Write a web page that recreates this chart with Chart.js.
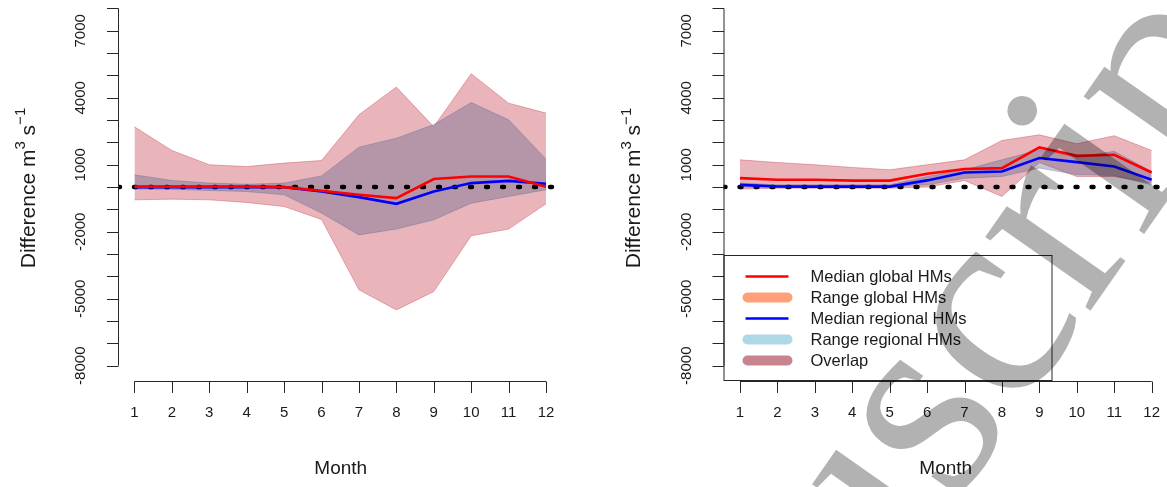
<!DOCTYPE html>
<html>
<head>
<meta charset="utf-8">
<script src="https://cdn.jsdelivr.net/npm/chart.js@4.4.1/dist/chart.umd.min.js"></script>
<style>
    html, body { margin: 0; padding: 0; background: #fff; }
    #wrap { position: relative; width: 1167px; height: 487px; }
    canvas { position: absolute; left: 0; top: 0; }
</style>
</head>
<body>
<div id="wrap">
    <canvas id="left-chart" width="1167" height="487"></canvas>
    <canvas id="right-chart" width="1167" height="487"></canvas>
</div>
<script>
// months on the x axis
const months = [1, 2, 3, 4, 5, 6, 7, 8, 9, 10, 11, 12];

// left panel (m3 s-1)
const leftGlobalMedian = [20, 20, 20, 20, 0, -165, -345, -495, 360, 475, 475, 20];
const leftGlobalMin = [-570, -540, -570, -690, -870, -1450, -4600, -5500, -4680, -2180, -1880, -750];
const leftGlobalMax = [2700, 1640, 1000, 920, 1075, 1190, 3240, 4480, 2700, 5075, 3760, 3315];
const leftRegionalMedian = [0, 0, 0, 0, 0, -200, -450, -750, -200, 180, 280, 150];
const leftRegionalMin = [-90, -100, -150, -200, -345, -1165, -2140, -1880, -1465, -720, -420, -120];
const leftRegionalMax = [550, 300, 180, 130, 180, 500, 1790, 2190, 2800, 3790, 3015, 1250];

// right panel
const rightGlobalMedian = [400, 330, 330, 290, 290, 600, 810, 850, 1775, 1400, 1450, 655];
const rightGlobalMin = [-90, -50, -50, -50, -50, 0, 295, -420, 1100, 475, 475, 180];
const rightGlobalMax = [1220, 1100, 1000, 880, 775, 1000, 1220, 2090, 2340, 1940, 2300, 1640];
const rightRegionalMedian = [100, 30, 20, 20, 20, 300, 655, 700, 1300, 1120, 925, 330];
const rightRegionalMin = [0, 0, 0, 0, 0, 100, 400, 475, 850, 560, 520, 100];
const rightRegionalMax = [180, 100, 100, 100, 100, 475, 775, 1220, 1670, 1340, 1600, 700];

// axis ticks
const yTickValues = [-8000, -7000, -6000, -5000, -4000, -3000, -2000, -1000, 0, 1000, 2000, 3000, 4000, 5000, 6000, 7000, 8000];
const yTickLabels = [-8000, -5000, -2000, 1000, 4000, 7000];

const legendItems = [
    { text: 'Median global HMs', color: '#ff0000', width: 2.5 },
    { text: 'Range global HMs', color: '#ffa07a', width: 10 },
    { text: 'Median regional HMs', color: '#0000ff', width: 2.5 },
    { text: 'Range regional HMs', color: '#add8e6', width: 10 },
    { text: 'Overlap', color: '#c8848e', width: 10 }
];

const FONT = '"Liberation Sans", Arial, sans-serif';

function toPoints(values) {
    return values.map((v, i) => ({ x: months[i], y: v }));
}

// R style axes, drawn from the chart's own scales
const rAxesPlugin = {
    id: 'rAxes',
    afterDatasetsDraw(chart) {
        const ctx = chart.ctx;
        const xs = chart.scales.x;
        const ys = chart.scales.y;
        const area = chart.chartArea;
        const axisX = area.left;
        const axisY = area.bottom + 1;

        ctx.save();
        ctx.strokeStyle = '#262626';
        ctx.fillStyle = '#1a1a1a';
        ctx.lineWidth = 1;

        // y axis
        const yTop = ys.getPixelForValue(yTickValues[yTickValues.length - 1]);
        const yBot = ys.getPixelForValue(yTickValues[0]);
        ctx.beginPath();
        ctx.moveTo(axisX + 0.5, yTop);
        ctx.lineTo(axisX + 0.5, yBot);
        yTickValues.forEach(v => {
            const py = Math.round(ys.getPixelForValue(v)) + 0.5;
            ctx.moveTo(axisX + 0.5, py);
            ctx.lineTo(axisX - 11, py);
        });
        ctx.stroke();

        ctx.font = '15px ' + FONT;
        ctx.textAlign = 'center';
        ctx.textBaseline = 'middle';
        yTickLabels.forEach(v => {
            ctx.save();
            ctx.translate(axisX - 37, ys.getPixelForValue(v));
            ctx.rotate(-Math.PI / 2);
            ctx.fillText(String(v), 0, 0);
            ctx.restore();
        });

        // x axis
        const x1 = xs.getPixelForValue(months[0]);
        const x2 = xs.getPixelForValue(months[months.length - 1]);
        ctx.beginPath();
        ctx.moveTo(x1, axisY + 0.5);
        ctx.lineTo(x2, axisY + 0.5);
        months.forEach(m => {
            const px = Math.round(xs.getPixelForValue(m)) + 0.5;
            ctx.moveTo(px, axisY + 0.5);
            ctx.lineTo(px, axisY + 12);
        });
        ctx.stroke();

        months.forEach(m => {
            ctx.fillText(String(m), xs.getPixelForValue(m), 413);
        });

        // titles
        ctx.font = '19px ' + FONT;
        ctx.fillText('Month', (area.left + xs.getPixelForValue(xs.max)) / 2 + 0.5, 469);

        const parts = [
            { t: 'Difference m', size: 21, up: 0 },
            { t: '3', size: 15, up: 8 },
            { t: ' s', size: 21, up: 0 },
            { t: '\u22121', size: 15, up: 8 }
        ];
        let total = 0;
        parts.forEach(p => {
            ctx.font = p.size + 'px ' + FONT;
            p.w = ctx.measureText(p.t).width;
            total += p.w;
        });
        ctx.save();
        ctx.translate(axisX - 89, (area.top + area.bottom) / 2 - 2);
        ctx.rotate(-Math.PI / 2);
        ctx.textAlign = 'left';
        let cx = -total / 2;
        parts.forEach(p => {
            ctx.font = p.size + 'px ' + FONT;
            ctx.fillText(p.t, cx, -p.up);
            cx += p.w;
        });
        ctx.restore();

        ctx.restore();
    }
};

const legendPlugin = {
    id: 'rLegend',
    afterDatasetsDraw(chart) {
        const opts = chart.options.plugins.rLegend;
        if (!opts || !opts.show) return;
        const ctx = chart.ctx;
        const area = chart.chartArea;
        const left = area.left;
        const bottom = area.bottom;
        ctx.save();
        ctx.strokeStyle = '#262626';
        ctx.lineWidth = 1;
        ctx.strokeRect(left + 0.5, 255.5, 328, bottom - 255);

        ctx.font = '16.5px ' + FONT;
        ctx.textBaseline = 'middle';
        ctx.textAlign = 'left';
        legendItems.forEach((item, i) => {
            const y = 276.5 + i * 21;
            ctx.beginPath();
            ctx.strokeStyle = item.color;
            ctx.lineWidth = item.width;
            ctx.lineCap = item.width > 5 ? 'round' : 'butt';
            if (item.width > 5) {
                ctx.moveTo(left + 24, y);
                ctx.lineTo(left + 64, y);
            } else {
                ctx.moveTo(left + 22, y);
                ctx.lineTo(left + 65, y);
            }
            ctx.stroke();
            ctx.fillStyle = '#1a1a1a';
            ctx.fillText(item.text, left + 87, y + 1);
        });
        ctx.restore();
    }
};

const watermarkPlugin = {
    id: 'watermark',
    afterDraw(chart) {
        const opts = chart.options.plugins.watermark;
        if (!opts || !opts.show) return;
        const ctx = chart.ctx;
        const size = 280;
        const angle = -55 * Math.PI / 180;
        ctx.save();
        ctx.font = size + 'px "Liberation Serif", "DejaVu Serif", serif';
        const before = ctx.measureText('Manus').width;
        const cw = ctx.measureText('c').width;
        const lx = before + cw / 2;
        const ly = -0.45 * size / 2;
        const cos = Math.cos(angle), sin = Math.sin(angle);
        const ox = 1000 - (lx * cos - ly * sin);
        const oy = 330 - (lx * sin + ly * cos);
        ctx.translate(ox, oy);
        ctx.rotate(angle);
        ctx.fillStyle = 'rgba(0, 0, 0, 0.3)';
        ctx.textAlign = 'left';
        ctx.textBaseline = 'alphabetic';
        ctx.fillText('Manuscript', 0, 0);
        ctx.restore();
    }
};

function makePanel(canvasId, d) {
    const ctx = document.getElementById(canvasId).getContext('2d');
    return new Chart(ctx, {
        type: 'line',
        data: {
            datasets: [
                {
                    label: 'Median global HMs',
                    data: toPoints(d.globalMedian),
                    borderColor: '#ff0000',
                    borderWidth: 2.6,
                    pointRadius: 0,
                    fill: false
                },
                {
                    label: 'Median regional HMs',
                    data: toPoints(d.regionalMedian),
                    borderColor: '#0000ff',
                    borderWidth: 2.6,
                    pointRadius: 0,
                    fill: false
                },
                {
                    label: 'zero',
                    data: [{ x: d.xMin, y: 0 }, { x: d.xMax, y: 0 }],
                    borderColor: '#000000',
                    borderWidth: 4.5,
                    borderDash: [2, 14],
                    borderCapStyle: 'round',
                    pointRadius: 0,
                    fill: false
                },
                {
                    label: 'Range regional max',
                    data: toPoints(d.regionalMax),
                    borderColor: 'rgba(80, 100, 150, 0.35)',
                    borderWidth: 1,
                    pointRadius: 0,
                    fill: { target: '+1' },
                    backgroundColor: 'rgba(84, 92, 133, 0.35)'
                },
                {
                    label: 'Range regional min',
                    data: toPoints(d.regionalMin),
                    borderColor: 'rgba(80, 100, 150, 0.35)',
                    borderWidth: 1,
                    pointRadius: 0,
                    fill: false
                },
                {
                    label: 'Range global max',
                    data: toPoints(d.globalMax),
                    borderColor: 'rgba(200, 60, 80, 0.4)',
                    borderWidth: 1,
                    pointRadius: 0,
                    fill: { target: '+1' },
                    backgroundColor: 'rgba(200, 70, 85, 0.4)'
                },
                {
                    label: 'Range global min',
                    data: toPoints(d.globalMin),
                    borderColor: 'rgba(200, 60, 80, 0.4)',
                    borderWidth: 1,
                    pointRadius: 0,
                    fill: false
                }
            ]
        },
        options: {
            responsive: false,
            animation: false,
            devicePixelRatio: 1,
            layout: { padding: d.padding },
            scales: {
                x: { type: 'linear', min: d.xMin, max: d.xMax, display: false },
                y: { type: 'linear', min: -8640, max: 8380, display: false }
            },
            plugins: {
                legend: { display: false },
                tooltip: { enabled: false },
                rLegend: { show: d.legend },
                watermark: { show: d.watermark }
            }
        },
        plugins: [rAxesPlugin, legendPlugin, watermarkPlugin]
    });
}

makePanel('left-chart', {
    globalMedian: leftGlobalMedian,
    globalMin: leftGlobalMin,
    globalMax: leftGlobalMax,
    regionalMedian: leftRegionalMedian,
    regionalMin: leftRegionalMin,
    regionalMax: leftRegionalMax,
    xMin: 0.56,
    xMax: 12.44,
    padding: { left: 118, right: 604.5, top: 0, bottom: 107 },
    legend: false,
    watermark: false
});

makePanel('right-chart', {
    globalMedian: rightGlobalMedian,
    globalMin: rightGlobalMin,
    globalMax: rightGlobalMax,
    regionalMedian: rightRegionalMedian,
    regionalMin: rightRegionalMin,
    regionalMax: rightRegionalMax,
    xMin: 0.56,
    xMax: 12.41,
    padding: { left: 723.5, right: 0, top: 0, bottom: 107 },
    legend: true,
    watermark: true
});
</script>
</body>
</html>
